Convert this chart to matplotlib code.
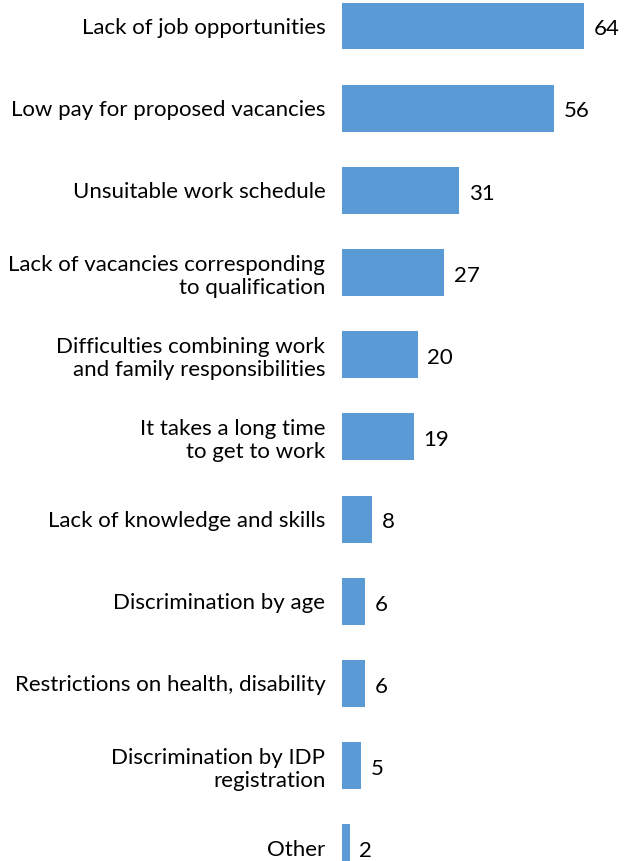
import matplotlib
matplotlib.use("Agg")
import matplotlib.pyplot as plt

categories = [
    "Lack of job opportunities",
    "Low pay for proposed vacancies",
    "Unsuitable work schedule",
    "Lack of vacancies corresponding\nto qualification",
    "Difficulties combining work\nand family responsibilities",
    "It takes a long time\nto get to work",
    "Lack of knowledge and skills",
    "Discrimination by age",
    "Restrictions on health, disability",
    "Discrimination by IDP\nregistration",
    "Other",
]
values = [64, 56, 31, 27, 20, 19, 8, 6, 6, 5, 2]

plt.rcParams["font.family"] = ["Lato", "DejaVu Sans"]

fig = plt.figure(figsize=(6.3, 8.61), dpi=100)
ax = fig.add_axes([342 / 630, 0.0, 264.6 / 630, 1.0])

pos = list(range(len(categories)))
ax.barh(pos, values, height=0.57, color="#5B9BD5")
for y, v in zip(pos, values):
    ax.text(v + 2.6, y + 0.04, str(v), va="center", ha="left", fontsize=16, color="black")

ax.set_xlim(0, 70)
ax.set_ylim(10.16, -0.316)
ax.set_yticks(pos)
ax.set_yticklabels(categories, fontsize=16, linespacing=1.2, color="black")
ax.tick_params(axis="y", length=0, pad=12)
ax.set_xticks([])
for s in ax.spines.values():
    s.set_visible(False)

fig.savefig("out.png", dpi=100)
